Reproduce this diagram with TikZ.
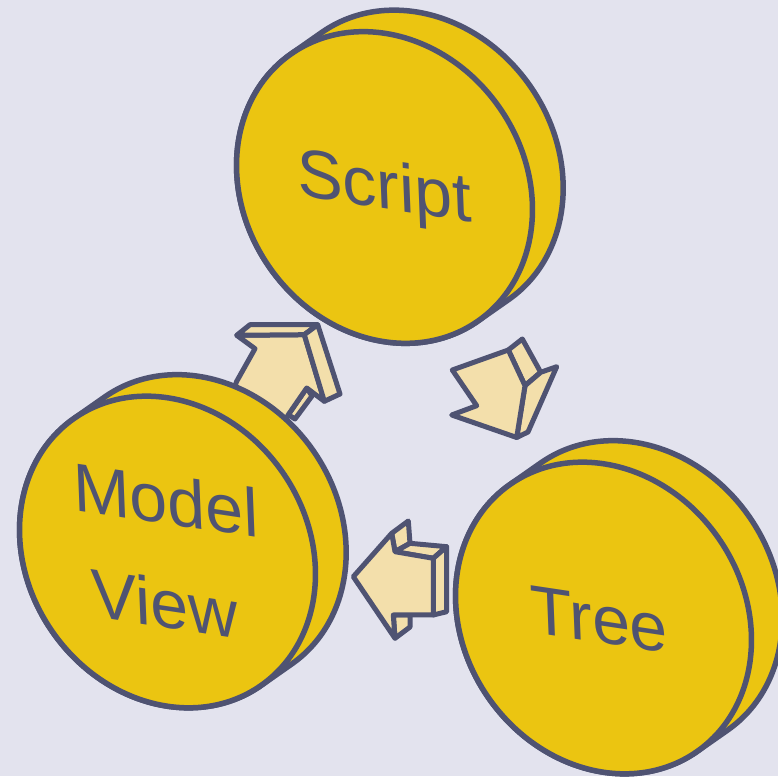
\documentclass[tikz,border=0pt]{standalone}
\usepackage{fontspec}
\setmainfont{Liberation Sans}
\definecolor{bgc}{HTML}{E3E3EE}
\definecolor{discc}{HTML}{EBC511}
\definecolor{inkc}{HTML}{4F5372}
\definecolor{arrc}{HTML}{F3DFAB}
\tikzset{
  discface/.style={fill=discc, draw=inkc, line width=5.5pt, line join=round},
  arrface/.style={fill=arrc, draw=inkc, line width=5pt, line join=round},
  lbl/.style={text=inkc, font=\fontsize{68}{80}\selectfont, inner sep=0pt,
    yslant=-0.15, xslant=-0.04, anchor=base},
}
\newcommand\drawcoin[2]{%
  \coordinate (#1) at (#2);
  \begin{scope}[shift={(#1)}, rotate=-55]
    \draw[discface] (163,0) -- (163,37.5)
      arc[start angle=0,end angle=180,x radius=163,y radius=140]
      -- (-163,0)
      arc[start angle=180,end angle=360,x radius=163,y radius=140] -- cycle;
    \draw[discface] (0,0) ellipse[x radius=163,y radius=140];
  \end{scope}}
\begin{document}
\begin{tikzpicture}[x=1pt,y=1pt]
\useasboundingbox (0,0) rectangle (778,776);
\fill[bgc] (0,0) rectangle (778,776);

% arrow 1 (between Model View and Script)
\draw[arrface] (306.7,388) -- (312,380) -- (295,357) -- (288.3,361.3) -- cycle;
\draw[arrface] (236.7,440.7) -- (304.3,441.3) -- (324.3,374.7) -- (306.7,388)
  -- (288.3,361.3) -- (275,336) -- (250,336) -- (228,371) -- (236.7,394.7)
  -- (255,427.3) -- cycle;
\draw[arrface] (236.7,440.7) -- (304.3,441.3) -- (317.7,451.3) -- (250,451.3) -- cycle;
\draw[arrface] (304.3,441.3) -- (317.7,451.3) -- (340,382) -- (324.3,374.7) -- cycle;

% arrow 2 (Script to Tree)
\draw[arrface] (508.3,426) -- (522.3,437) -- (540.7,403.7) -- (525,390.3) -- cycle;
\draw[arrface] (525,390.3) -- (540.7,403.7) -- (556.7,409.3) -- (528,344) -- (516.7,338.5) -- cycle;
\draw[arrface] (452.3,406) -- (508.3,426) -- (525,390.3) -- (516.7,338.5)
  -- (451.7,361) -- (476.7,370.3) -- cycle;

% arrow 3 (Tree to Model View)
\draw[arrface] (395,224.3) -- (391.7,242.7) -- (408.3,255) -- (410,232.7) -- cycle;
\draw[arrface] (395,224.3) -- (433.3,217.7) -- (446.7,229.3) -- (410,232.7) -- cycle;
\draw[arrface] (433.3,217.7) -- (446.7,229.3) -- (446.7,164.3) -- (433.3,161) -- cycle;
\draw[arrface] (393.3,161) -- (395,137.7) -- (410,149) -- (410,161) -- cycle;
\draw[arrface] (353.3,199.3) -- (391.7,242.7) -- (395,224.3) -- (433.3,217.7)
  -- (433.3,161) -- (393.3,161) -- (395,137.7) -- cycle;

% discs
\drawcoin{scriptc}{384.5,588.5}
\drawcoin{modelc}{167.5,224}
\drawcoin{treec}{603.5,158}

% labels
\node[lbl] (script) at (385,567) {Script};
\node[lbl] (tree) at (600,133) {Tree};
\node[lbl] (model) at (166.7,252) {Model};
\node[lbl] (view) at (165.7,148.4) {View};
\end{tikzpicture}
\end{document}
